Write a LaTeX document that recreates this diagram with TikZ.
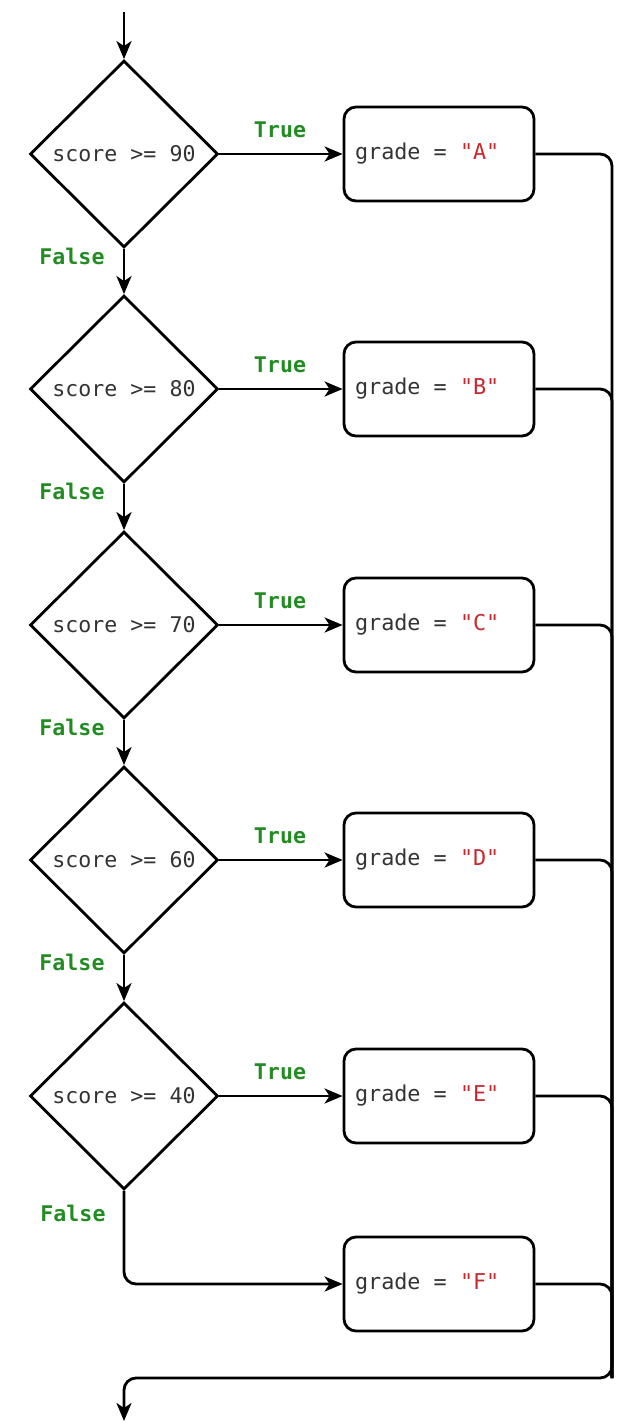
\documentclass[tikz,border=0pt]{standalone}
\usepackage{fontspec}
\setmonofont{DejaVu Sans Mono}
\usetikzlibrary{shapes.geometric,arrows.meta}
\definecolor{codegray}{RGB}{51,51,51}
\definecolor{strred}{RGB}{200,40,45}
\definecolor{lblgreen}{RGB}{34,140,34}
\newcommand{\assigntext}[1]{\makebox[168pt][l]{grade\ =\ \textcolor{strred}{"#1"}}}
\tikzset{
  every picture/.style={line width=2.8pt},
  decision/.style={diamond, draw, minimum width=188pt, minimum height=187pt, inner sep=0pt, font=\ttfamily\fontsize{21.6}{24}\selectfont, text=codegray},
  assign/.style={draw, rounded corners=12pt, minimum width=190pt, minimum height=94pt, inner sep=10pt, font=\ttfamily\fontsize{21.8}{24}\selectfont, text=codegray},
  lbl/.style={font=\ttfamily\bfseries\fontsize{21.6}{24}\selectfont, text=lblgreen, inner sep=0pt},
  flow/.style={-{Stealth[length=18pt,width=15pt,inset=5pt]}},
  merge/.style={rounded corners=12pt},
}
\begin{document}
\begin{tikzpicture}[x=1pt,y=-1pt]
\useasboundingbox (0,0) rectangle (621,1425);
\coordinate (start) at (124,12);
\coordinate (endc) at (124,1421);
\coordinate (joinbot) at (612,1378);
\foreach \i/\v/\g/\y in {1/90/A/154,2/80/B/389,3/70/C/625,4/60/D/860,5/40/E/1096}{
  \node[decision] (d\i) at (124,\y) {score >= \v};
  \node[assign] (b\i) at (439,\y) {\assigntext{\g}};
  \draw[flow] (d\i.east) -- (b\i.west);
  \node[lbl] (t\i) at (280,\y-24) {True};
}
\node[assign] (b6) at (439,1284) {\assigntext{F}};
\foreach \i in {2,3,4,5,6}{
  \draw[merge] (b\i.east) -| (joinbot);
}
\draw[flow, merge] (b1.east) -| (joinbot) -| (endc);
\draw[flow] (start) -- (d1.north);
\foreach \i/\j in {1/2,2/3,3/4,4/5}{
  \draw[flow] (d\i.south) -- (d\j.north);
  \node[lbl] (f\i) at (72,{154+235.5*(\i-1)+102}) {False};
}
\node[lbl] (f5) at (73,1213) {False};
\draw[flow, merge] (d5.south) |- (b6.west);
\end{tikzpicture}
\end{document}
